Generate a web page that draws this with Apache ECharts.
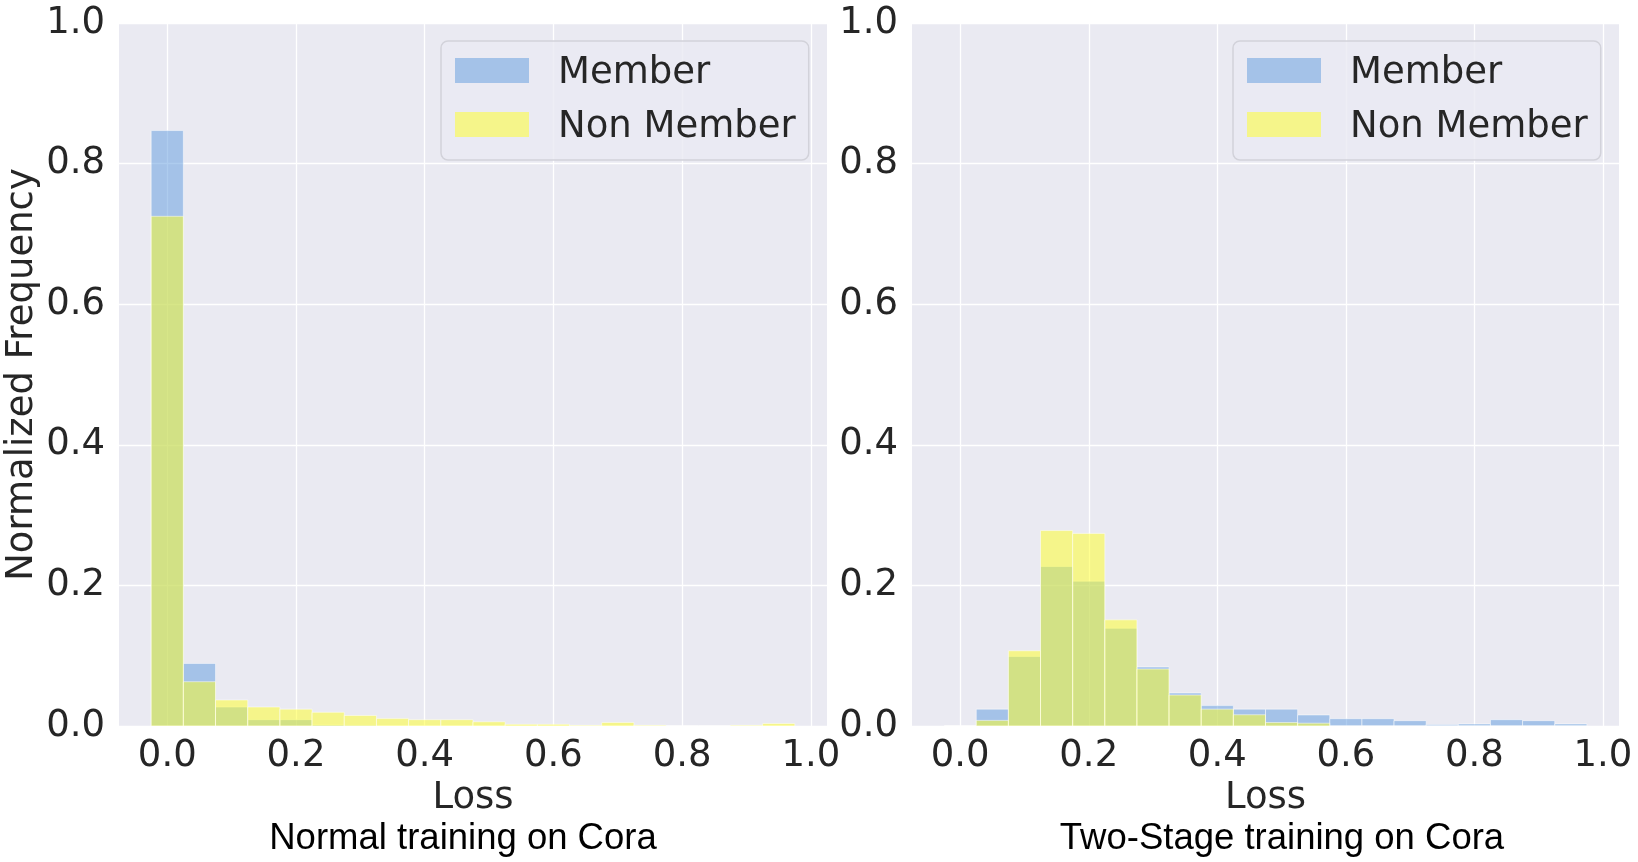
<!DOCTYPE html>
<html>
<head>
<meta charset="utf-8">
<title>Loss histogram</title>
<script src="https://cdn.jsdelivr.net/npm/echarts@6/dist/echarts.min.js"></script>
<style>
html, body { margin: 0; padding: 0; background: #fff; }
#main { width: 1638px; height: 862px; }
</style>
</head>
<body>
<div id="main"></div>
<script>
// bin centres (width 0.05)
var binCenters = [0.00, 0.05, 0.10, 0.15, 0.20, 0.25, 0.30, 0.35, 0.40, 0.45,
                  0.50, 0.55, 0.60, 0.65, 0.70, 0.75, 0.80, 0.85, 0.90, 0.95];
var binWidth = 0.05;
var xTicks = [0, 0.2, 0.4, 0.6, 0.8, 1.0];

// Normal training on Cora
var normalMember    = [0.847, 0.089, 0.027, 0.009, 0.009, 0.0015, 0.001, 0, 0, 0,
                       0, 0, 0, 0, 0, 0, 0, 0, 0, 0];
var normalNonMember = [0.725, 0.063, 0.037, 0.027, 0.024, 0.0195, 0.015, 0.0105, 0.009, 0.009,
                       0.006, 0.0025, 0.0025, 0.001, 0.005, 0.001, 0, 0, 0.001, 0.0035];

// Two-Stage training on Cora
var twoStageMember    = [0, 0.024, 0.099, 0.227, 0.206, 0.139, 0.084, 0.047, 0.029, 0.024,
                         0.024, 0.0157, 0.0104, 0.0104, 0.0076, 0.002, 0.003, 0.009, 0.0076, 0.003];
var twoStageNonMember = [0, 0.008, 0.107, 0.278, 0.274, 0.151, 0.081, 0.044, 0.024, 0.016,
                         0.005, 0.004, 0, 0, 0, 0, 0, 0, 0, 0];

var memberColor = 'rgba(94,154,222,0.5)';
var nonMemberColor = 'rgba(255,255,34,0.5)';
var tickColor = '#262626';

function histData(vals) {
	var out = [];
	for (var i = 0; i < vals.length; i++) {
		out.push([binCenters[i] - binWidth / 2, binCenters[i] + binWidth / 2, vals[i]]);
	}
	return out;
}

function renderBin(color) {
	return function (params, api) {
		var p0 = api.coord([api.value(0), api.value(2)]);
		var p1 = api.coord([api.value(1), 0]);
		return {
			type: 'rect',
			shape: { x: p0[0], y: p0[1], width: p1[0] - p0[0], height: p1[1] - p0[1] },
			style: { fill: color, stroke: 'rgba(255,255,255,0.5)', lineWidth: 1 }
		};
	};
}

function xAxisOpt(idx) {
	return {
		type: 'value', gridIndex: idx, min: -0.075, max: 1.025,
		name: 'Loss', nameLocation: 'middle', nameGap: 54,
		nameTextStyle: { fontFamily: 'DejaVu Sans', fontSize: 37, color: tickColor },
		axisLine: { show: false },
		axisTick: { show: false, customValues: xTicks },
		axisLabel: {
			customValues: xTicks, margin: 12, fontFamily: 'DejaVu Sans', fontSize: 37, color: tickColor,
			formatter: function (v) { return v.toFixed(1); }
		},
		splitLine: { show: true, lineStyle: { color: '#ffffff', width: 1.3 } }
	};
}

function yAxisOpt(idx, withName) {
	return {
		type: 'value', gridIndex: idx, min: 0, max: 1, interval: 0.2,
		name: withName ? 'Normalized Frequency' : '', nameLocation: 'middle', nameGap: 78,
		nameTextStyle: { fontFamily: 'DejaVu Sans', fontSize: 37, color: tickColor },
		axisLine: { show: false },
		axisTick: { show: false },
		axisLabel: {
			margin: 14, fontFamily: 'DejaVu Sans', fontSize: 37, color: tickColor,
			formatter: function (v) { return v.toFixed(1); }
		},
		splitLine: { show: true, lineStyle: { color: '#ffffff', width: 1.3 } }
	};
}

function legendOpt(left) {
	return {
		data: ['Member', 'Non Member'],
		orient: 'vertical', left: left, top: 41,
		icon: 'rect', itemWidth: 74, itemHeight: 25, itemGap: 11,
		padding: [8, 13, 14, 14],
		backgroundColor: 'rgba(234,234,242,0.8)',
		borderColor: '#d2d2da', borderWidth: 1.5, borderRadius: 7,
		selectedMode: false,
		formatter: function (name) { return '{t|' + name + '}'; },
		textStyle: {
			fontFamily: 'DejaVu Sans', fontSize: 37, color: tickColor, padding: [0, 0, 0, 24],
			rich: { t: { fontFamily: 'DejaVu Sans', fontSize: 37, color: tickColor, lineHeight: 44, padding: [6, 0, 0, 0] } }
		}
	};
}

var myChart = echarts.init(document.getElementById('main'));
var option = {
	animation: false,
	grid: [
		{ left: 119, top: 23, width: 708, height: 703, show: true, backgroundColor: '#EAEAF2', borderWidth: 0 },
		{ left: 912, top: 23, width: 707, height: 703, show: true, backgroundColor: '#EAEAF2', borderWidth: 0 }
	],
	xAxis: [xAxisOpt(0), xAxisOpt(1)],
	yAxis: [yAxisOpt(0, true), yAxisOpt(1, false)],
	legend: [legendOpt(441), legendOpt(1233)],
	graphic: [
		{ type: 'text', x: 463, y: 839, style: { text: 'Normal training on Cora', font: '36.5px "Liberation Sans", Arial, sans-serif', fill: '#000', align: 'center', verticalAlign: 'middle', textAlign: 'center', textVerticalAlign: 'middle' } },
		{ type: 'text', x: 1282, y: 839, style: { text: 'Two-Stage training on Cora', font: '36.5px "Liberation Sans", Arial, sans-serif', fill: '#000', align: 'center', verticalAlign: 'middle', textAlign: 'center', textVerticalAlign: 'middle' } }
	],
	series: [
		{ name: 'Member', type: 'custom', xAxisIndex: 0, yAxisIndex: 0, renderItem: renderBin(memberColor), itemStyle: { color: memberColor }, encode: { x: [0, 1], y: 2 }, data: histData(normalMember) },
		{ name: 'Non Member', type: 'custom', xAxisIndex: 0, yAxisIndex: 0, renderItem: renderBin(nonMemberColor), itemStyle: { color: nonMemberColor }, encode: { x: [0, 1], y: 2 }, data: histData(normalNonMember) },
		{ name: 'Member', type: 'custom', xAxisIndex: 1, yAxisIndex: 1, renderItem: renderBin(memberColor), itemStyle: { color: memberColor }, encode: { x: [0, 1], y: 2 }, data: histData(twoStageMember) },
		{ name: 'Non Member', type: 'custom', xAxisIndex: 1, yAxisIndex: 1, renderItem: renderBin(nonMemberColor), itemStyle: { color: nonMemberColor }, encode: { x: [0, 1], y: 2 }, data: histData(twoStageNonMember) }
	]
};
myChart.setOption(option);
</script>
</body>
</html>
